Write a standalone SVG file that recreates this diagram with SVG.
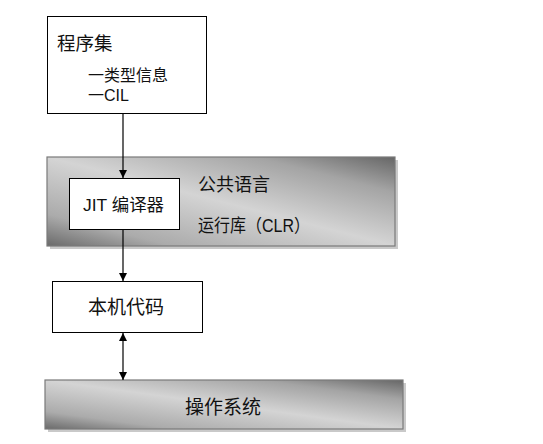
<svg xmlns="http://www.w3.org/2000/svg" width="543" height="444" viewBox="0 0 543 444">
<style>
text{font-family:"Liberation Sans","Noto Sans CJK SC",sans-serif;fill:#111}
.box{fill:#fff;stroke:#000;stroke-width:1}
.band{stroke:#7a7a7a;stroke-width:1.2}
.shadow{fill:#c9c9c9}
.con{stroke:#000;stroke-width:1.2;fill:none}
</style>
<defs>
<linearGradient id="g" x1="0" y1="1" x2="1" y2="0">
<stop offset="0" stop-color="#6a6a6a"/>
<stop offset="0.18" stop-color="#ababab"/>
<stop offset="0.5" stop-color="#d4d4d4"/>
<stop offset="0.8" stop-color="#a4a4a4"/>
<stop offset="1" stop-color="#666"/>
</linearGradient>
<marker id="ah" viewBox="0 0 8 10" refX="8" refY="5" markerWidth="8" markerHeight="10" markerUnits="userSpaceOnUse" orient="auto-start-reverse">
<path d="M0,1 L8,5 L0,9 Z" fill="#000"/>
</marker>
</defs>
<g id="clr">
<rect class="shadow" x="50" y="160" width="348" height="89"/>
<rect class="band" x="47" y="157" width="348" height="89" fill="url(#g)"/>
<text x="198" y="191" font-size="18">公共语言</text>
<text x="198" y="232" font-size="18" textLength="112" lengthAdjust="spacingAndGlyphs">运行库（CLR）</text>
</g>
<g id="os">
<rect class="shadow" x="48" y="383" width="358" height="49"/>
<rect class="band" x="45" y="380" width="358" height="49" fill="url(#g)"/>
<text x="223" y="414" font-size="19" text-anchor="middle">操作系统</text>
</g>
<g id="assembly">
<rect class="box" x="47.5" y="16.5" width="159" height="97"/>
<text x="57" y="50" font-size="18.5">程序集</text>
<text x="88" y="81" font-size="16">一类型信息</text>
<text x="88" y="101" font-size="16">一CIL</text>
</g>
<g id="jit">
<rect class="box" x="69.5" y="178.5" width="110" height="51"/>
<text x="123.5" y="211" font-size="17" text-anchor="middle" textLength="81" lengthAdjust="spacingAndGlyphs">JIT 编译器</text>
</g>
<g id="native">
<rect class="box" x="52.5" y="281.5" width="150" height="51"/>
<text x="126" y="314" font-size="19" text-anchor="middle">本机代码</text>
</g>
<g id="connectors">
<line class="con" x1="123" y1="114" x2="123" y2="178" marker-end="url(#ah)"/>
<line class="con" x1="123" y1="230" x2="123" y2="281" marker-end="url(#ah)"/>
<line class="con" x1="123" y1="333" x2="123" y2="380" marker-start="url(#ah)" marker-end="url(#ah)"/>
</g>
</svg>
